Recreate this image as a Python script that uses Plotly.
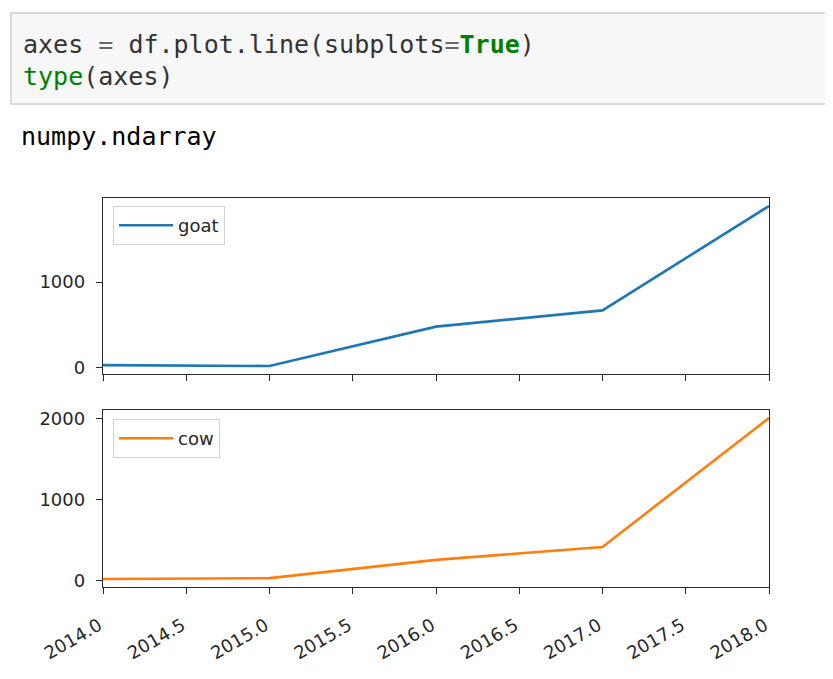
import plotly.graph_objects as go

# ---- data ----
years = [2014, 2015, 2016, 2017, 2018]
goat = [30, 20, 480, 670, 1890]
cow = [25, 35, 260, 420, 2010]
series_names = ["goat", "cow"]
series_colors = ["#1f77b4", "#ff7f0e"]
x_tick_vals = [2014.0, 2014.5, 2015.0, 2015.5, 2016.0, 2016.5, 2017.0, 2017.5, 2018.0]
x_tick_labels = ["%.1f" % v for v in x_tick_vals]

# page body has an 8px margin; figure is sized to fit inside the window
OFF = 8
W, H = 833 - 2 * OFF, 679 - 2 * OFF


def px(x):
    return (x - OFF) / W


def py(y):
    return 1 - (y - OFF) / H


def mpl_range(vals, m=0.05):
    lo, hi = min(vals), max(vals)
    s = hi - lo
    return [lo - m * s, hi + m * s]


fig = go.Figure()

fig.add_trace(go.Scatter(x=years, y=goat, mode="lines", name=series_names[0],
                         line=dict(color=series_colors[0], width=2.6),
                         xaxis="x", yaxis="y", legend="legend"))
fig.add_trace(go.Scatter(x=years, y=cow, mode="lines", name=series_names[1],
                         line=dict(color=series_colors[1], width=2.6),
                         xaxis="x2", yaxis="y2", legend="legend2"))

spine = "#2b2b2b"
tickfont = dict(family="DejaVu Sans", size=18, color="#262626")

common_x = dict(range=[min(years), max(years)], tickvals=x_tick_vals, ticktext=x_tick_labels,
                showgrid=False, zeroline=False, showline=True, mirror=True,
                linecolor=spine, linewidth=1.4, ticks="outside", ticklen=6,
                tickwidth=1.4, tickcolor=spine, tickfont=tickfont,
                automargin=False, domain=[px(103), px(769)])
common_y = dict(showgrid=False, zeroline=False, showline=True, mirror=True,
                linecolor=spine, linewidth=1.4, ticks="outside", ticklen=6,
                tickwidth=1.4, tickcolor=spine, tickfont=tickfont, dtick=1000,
                tick0=0, automargin=False, ticklabelstandoff=7)

legend_common = dict(font=dict(family="DejaVu Sans", size=18, color="#262626"),
                     bgcolor="rgba(255,255,255,0.8)", bordercolor="#d0d0d0",
                     borderwidth=1, xanchor="left", yanchor="top",
                     tracegroupgap=0, itemwidth=54)

fig.update_layout(
    width=W, height=H,
    margin=dict(l=0, r=0, t=0, b=0, autoexpand=False),
    paper_bgcolor="white", plot_bgcolor="white",
    xaxis=dict(common_x, anchor="y", showticklabels=False),
    yaxis=dict(common_y, range=mpl_range(goat), domain=[py(374), py(198)], anchor="x"),
    xaxis2=dict(common_x, anchor="y2", showticklabels=True, tickangle=-30,
                ticklabelshift=-4, ticklabelstandoff=14),
    yaxis2=dict(common_y, range=mpl_range(cow), domain=[py(587), py(410)], anchor="x2"),
    legend=dict(legend_common, x=px(113), y=py(206)),
    legend2=dict(legend_common, x=px(113), y=py(419)),
    showlegend=True,
)

# ---- notebook code cell (continues past the right edge of the window) ----
bx0, bx1, by0, by1 = px(11), 1.0, py(104), py(13)
fig.add_shape(type="rect", xref="paper", yref="paper",
              x0=bx0, x1=bx1, y0=by0, y1=by1,
              fillcolor="#f7f7f7", line=dict(width=0), layer="below")
fig.add_shape(type="path", xref="paper", yref="paper",
              path=f"M {bx1} {by1} L {bx0} {by1} L {bx0} {by0} L {bx1} {by0}",
              line=dict(color="#cfcfcf", width=1.5), layer="below")

mono = dict(family="DejaVu Sans Mono", size=25, color="#333333")
line1 = ("axes <span style='color:#666666'>=</span> df.plot.line(subplots"
         "<span style='color:#666666'>=</span><b><span style='color:#008000'>True</span></b>)")
line2 = "<span style='color:#008000'>type</span>(axes)"
fig.add_annotation(xref="paper", yref="paper", x=px(21), y=py(44), text=line1,
                   showarrow=False, xanchor="left", yanchor="middle", font=mono)
fig.add_annotation(xref="paper", yref="paper", x=px(21), y=py(77), text=line2,
                   showarrow=False, xanchor="left", yanchor="middle", font=mono)
fig.add_annotation(xref="paper", yref="paper", x=px(19), y=py(137), text="numpy.ndarray",
                   showarrow=False, xanchor="left", yanchor="middle",
                   font=dict(family="DejaVu Sans Mono", size=25, color="#000000"))

fig.write_html("out.html")
